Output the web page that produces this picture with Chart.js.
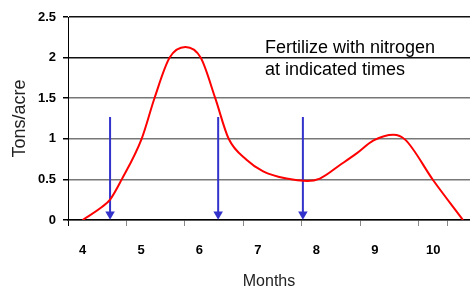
<!DOCTYPE html>
<html lang="en">
<head>
    <meta charset="UTF-8">
    <title>Tons/acre by month</title>
    <script src="https://cdn.jsdelivr.net/npm/chart.js"></script>
    <style>
        html, body { margin: 0; padding: 0; background: #fff; }
        #wrap { width: 470px; height: 293px; }
    </style>
</head>
<body>
    <div id="wrap"><canvas id="yieldChart" width="470" height="293"></canvas></div>

    <script>
        // Data
        const months = [4, 5, 6, 7, 8, 9, 10];
        const yTicks = [0, 0.5, 1, 1.5, 2, 2.5];
        const curveX = [4.0, 4.33, 4.47, 4.67, 5.01, 5.23, 5.49, 5.76, 6.02, 6.27, 6.5, 6.81, 7.09, 7.49, 7.84, 8.06, 8.41, 8.69, 8.98, 9.32, 9.52, 10.0, 10.51];
        const curveY = [0, 0.16, 0.25, 0.5, 1.0, 1.5, 2.0, 2.13, 2.0, 1.5, 1.0, 0.74, 0.6, 0.51, 0.48, 0.51, 0.68, 0.82, 0.98, 1.05, 0.99, 0.49, 0];
        const arrowX = [4.47, 6.32, 7.77];
        const arrowTop = 1.27;
        const arrowTip = 0.07;
        const note = ['Fertilize with nitrogen', 'at indicated times'];

        const font = "'Liberation Sans', Arial, sans-serif";

        const curvePoints = curveX.map((x, i) => ({ x: x, y: curveY[i] }));
        const arrowPoints = [];
        arrowX.forEach((x, i) => {
            if (i > 0) arrowPoints.push({ x: x, y: null });
            arrowPoints.push({ x: x, y: arrowTop });
            arrowPoints.push({ x: x, y: arrowTip });
        });

        // tick marks sit half way between the month labels
        const xTickValues = [];
        months.forEach(m => {
            xTickValues.push(m - 0.25);
            xTickValues.push(m);
        });
        xTickValues.push(months[months.length - 1] + 0.25);

        const notePlugin = {
            id: 'note',
            afterDraw(chart) {
                const ctx = chart.ctx;
                ctx.save();
                ctx.fillStyle = '#000';
                ctx.font = '18px ' + font;
                ctx.textBaseline = 'alphabetic';
                ctx.fillText(note[0], 265, 53);
                ctx.fillText(note[1], 265, 75);
                ctx.restore();
            }
        };

        const ctx = document.getElementById('yieldChart').getContext('2d');
        new Chart(ctx, {
            type: 'line',
            data: {
                datasets: [{
                    label: 'Yield',
                    data: curvePoints,
                    borderColor: '#ff0000',
                    borderWidth: 2,
                    pointRadius: 0,
                    cubicInterpolationMode: 'monotone',
                    fill: false
                }, {
                    label: 'Fertilize',
                    data: arrowPoints,
                    borderColor: '#3333cc',
                    backgroundColor: '#3333cc',
                    borderWidth: 2,
                    spanGaps: false,
                    pointStyle: 'triangle',
                    rotation: 180,
                    pointBorderWidth: 0,
                    pointRadius: c => (c.raw && c.raw.y === arrowTip ? 5.5 : 0),
                    fill: false
                }]
            },
            options: {
                responsive: false,
                animation: false,
                layout: { autoPadding: false, padding: { top: 17, right: 0, left: 0, bottom: 0 } },
                plugins: {
                    legend: { display: false },
                    tooltip: { enabled: false }
                },
                scales: {
                    x: {
                        type: 'linear',
                        min: 3.75,
                        max: 10.63,
                        afterBuildTicks: s => { s.ticks = xTickValues.map(v => ({ value: v })); },
                        afterFit: s => { s.height = 73; s.paddingLeft = 0; s.paddingRight = 0; },
                        border: { color: '#000', width: 1.5 },
                        grid: {
                            drawOnChartArea: false,
                            tickLength: 6,
                            tickColor: c => (Number.isInteger(c.tick.value) ? 'rgba(0,0,0,0)' : (c.tick.value === 3.75 ? '#000' : '#888'))
                        },
                        ticks: {
                            autoSkip: false,
                            maxRotation: 0,
                            padding: 17,
                            color: '#000',
                            font: { family: font, size: 13, weight: 'bold' },
                            callback: v => (Number.isInteger(v) ? String(v) : '')
                        },
                        title: {
                            display: true,
                            text: 'Months',
                            color: '#222',
                            font: { family: font, size: 16 },
                            padding: { top: 0, bottom: 2 }
                        }
                    },
                    y: {
                        min: 0,
                        max: 2.5,
                        afterBuildTicks: s => { s.ticks = yTicks.map(v => ({ value: v })); },
                        afterFit: s => { s.width = 68; },
                        border: { color: '#000', width: 1 },
                        grid: {
                            tickLength: 5,
                            lineWidth: 1.5,
                            color: c => (c.tick.value >= 2 ? '#111' : '#777'),
                            tickColor: '#000'
                        },
                        ticks: {
                            padding: 7,
                            color: '#000',
                            font: { family: font, size: 13, weight: 'bold' },
                            callback: v => String(v)
                        },
                        title: {
                            display: true,
                            text: 'Tons/acre',
                            color: '#222',
                            font: { family: font, size: 18 },
                            padding: { top: 9, bottom: 0 }
                        }
                    }
                }
            },
            plugins: [notePlugin]
        });
    </script>
</body>
</html>
